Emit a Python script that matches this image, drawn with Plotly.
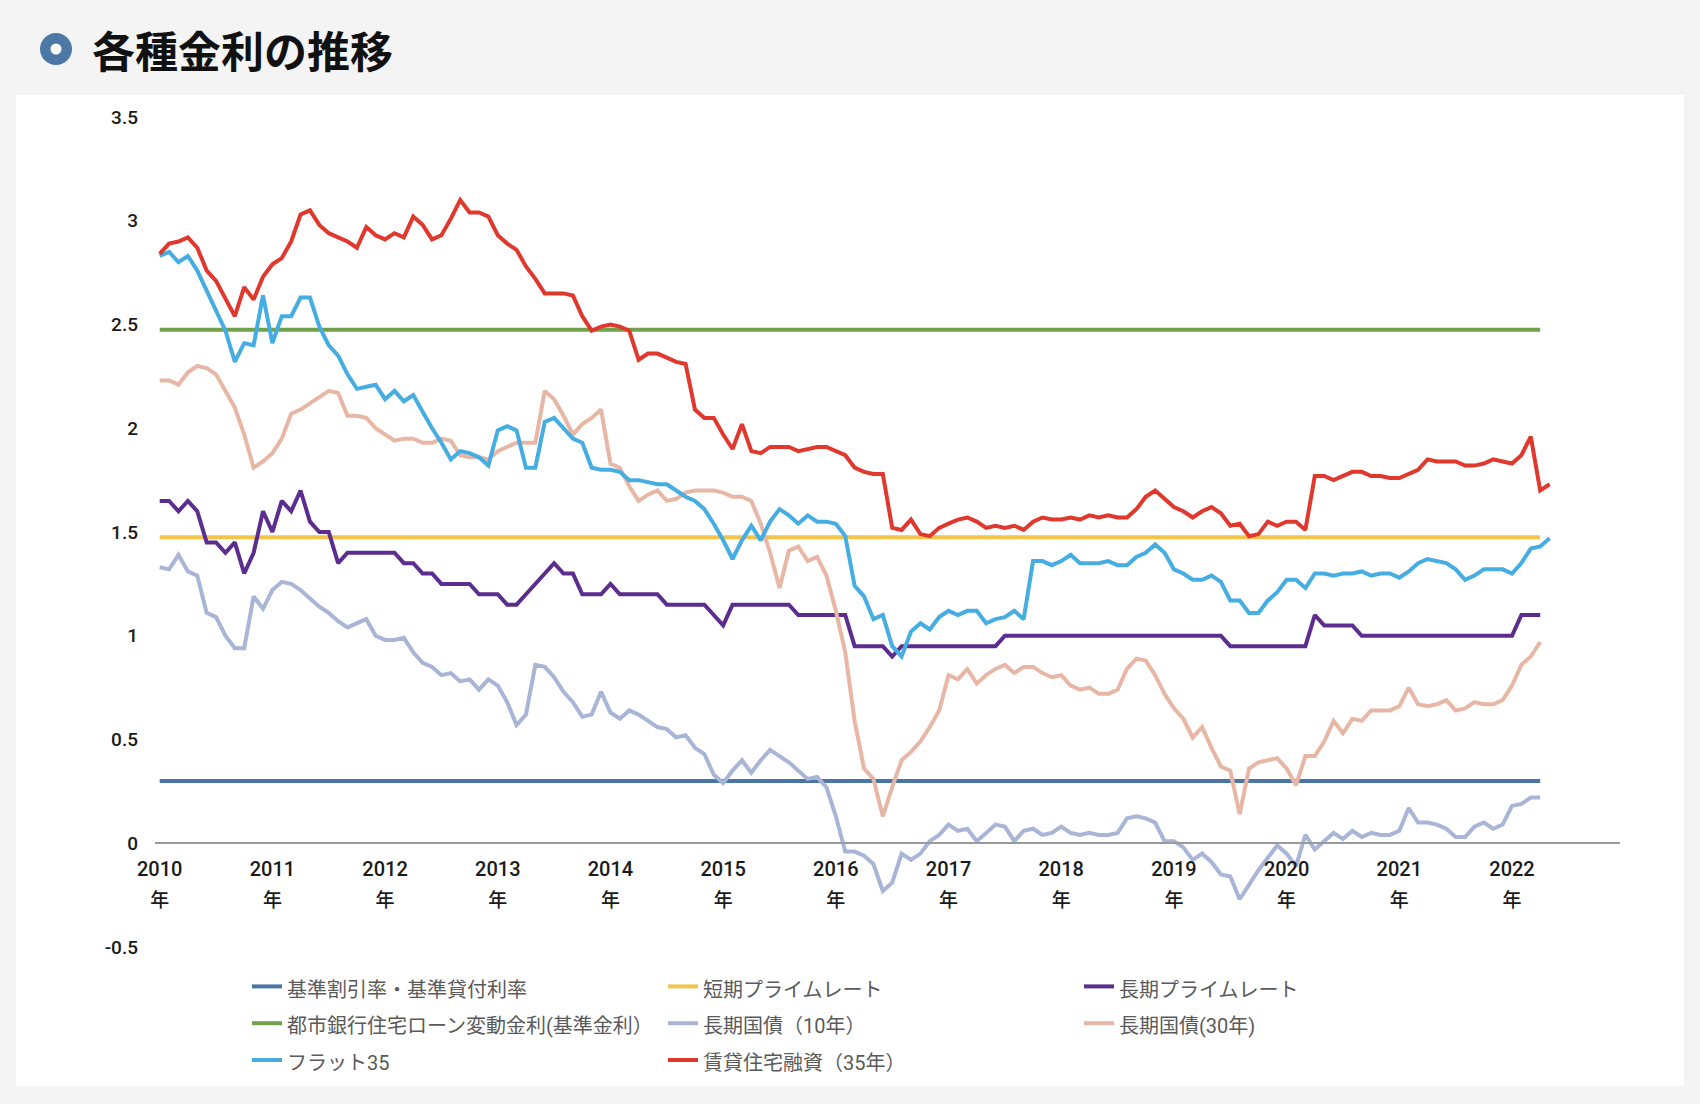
import plotly.graph_objects as go

# ---------------- data (monthly, Jan 2010 -> ) ----------------
years = [str(y) for y in range(2010, 2023)]
months = [f"{2010 + k // 12}/{k % 12 + 1:02d}" for k in range(149)]

# constant policy/bank rates (period start -> end, Jan 2010 - Apr 2022)
base_rate = [0.30, 0.30]          # 基準割引率・基準貸付利率
short_prime = [1.475, 1.475]      # 短期プライムレート
bank_variable = [2.475, 2.475]    # 都市銀行住宅ローン変動金利(基準金利)
const_x = [months[0], months[147]]

long_prime = [
    1.65, 1.65, 1.60, 1.65, 1.60, 1.45, 1.45, 1.40, 1.45, 1.30, 1.40, 1.60,
    1.50, 1.65, 1.60, 1.70, 1.55, 1.50, 1.50, 1.35, 1.40, 1.40, 1.40, 1.40,
    1.40, 1.40, 1.35, 1.35, 1.30, 1.30, 1.25, 1.25, 1.25, 1.25, 1.20, 1.20,
    1.20, 1.15, 1.15, 1.20, 1.25, 1.30, 1.35, 1.30, 1.30, 1.20, 1.20, 1.20,
    1.25, 1.20, 1.20, 1.20, 1.20, 1.20, 1.15, 1.15, 1.15, 1.15, 1.15, 1.10,
    1.05, 1.15, 1.15, 1.15, 1.15, 1.15, 1.15, 1.15, 1.10, 1.10, 1.10, 1.10,
    1.10, 1.10, 0.95, 0.95, 0.95, 0.95, 0.90, 0.95, 0.95, 0.95, 0.95, 0.95,
    0.95, 0.95, 0.95, 0.95, 0.95, 0.95, 1.00, 1.00, 1.00, 1.00, 1.00, 1.00,
    1.00, 1.00, 1.00, 1.00, 1.00, 1.00, 1.00, 1.00, 1.00, 1.00, 1.00, 1.00,
    1.00, 1.00, 1.00, 1.00, 1.00, 1.00, 0.95, 0.95, 0.95, 0.95, 0.95, 0.95,
    0.95, 0.95, 0.95, 1.10, 1.05, 1.05, 1.05, 1.05, 1.00, 1.00, 1.00, 1.00,
    1.00, 1.00, 1.00, 1.00, 1.00, 1.00, 1.00, 1.00, 1.00, 1.00, 1.00, 1.00,
    1.00, 1.10, 1.10, 1.10,
]

jgb10 = [
    1.33, 1.32, 1.39, 1.31, 1.29, 1.11, 1.09, 1.00, 0.94, 0.94, 1.19, 1.13,
    1.22, 1.26, 1.25, 1.22, 1.18, 1.14, 1.11, 1.07, 1.04, 1.06, 1.08, 1.00,
    0.98, 0.98, 0.99, 0.92, 0.87, 0.85, 0.81, 0.82, 0.78, 0.79, 0.74, 0.79,
    0.76, 0.68, 0.57, 0.62, 0.86, 0.85, 0.80, 0.73, 0.68, 0.61, 0.62, 0.73,
    0.63, 0.60, 0.64, 0.62, 0.59, 0.56, 0.55, 0.51, 0.52, 0.46, 0.43, 0.33,
    0.29, 0.35, 0.40, 0.34, 0.40, 0.45, 0.42, 0.39, 0.35, 0.31, 0.32, 0.27,
    0.13, -0.04, -0.04, -0.06, -0.10, -0.23, -0.19, -0.05, -0.08, -0.05, 0.01, 0.04,
    0.09, 0.06, 0.07, 0.01, 0.05, 0.09, 0.08, 0.01, 0.06, 0.07, 0.04, 0.05,
    0.08, 0.05, 0.04, 0.05, 0.04, 0.04, 0.05, 0.12, 0.13, 0.12, 0.10, 0.01,
    0.01, -0.02, -0.08, -0.05, -0.09, -0.15, -0.16, -0.27, -0.20, -0.13, -0.07, -0.01,
    -0.05, -0.11, 0.04, -0.03, 0.01, 0.05, 0.02, 0.06, 0.03, 0.05, 0.04, 0.04,
    0.06, 0.17, 0.10, 0.10, 0.09, 0.07, 0.03, 0.03, 0.08, 0.10, 0.07, 0.09,
    0.18, 0.19, 0.22, 0.22,
]

jgb30 = [
    2.23, 2.23, 2.21, 2.27, 2.30, 2.29, 2.26, 2.18, 2.10, 1.97, 1.81, 1.84,
    1.88, 1.95, 2.07, 2.09, 2.12, 2.15, 2.18, 2.17, 2.06, 2.06, 2.05, 2.00,
    1.97, 1.94, 1.95, 1.95, 1.93, 1.93, 1.95, 1.94, 1.87, 1.86, 1.86, 1.85,
    1.89, 1.91, 1.93, 1.93, 1.93, 2.18, 2.14, 2.06, 1.97, 2.02, 2.05, 2.09,
    1.83, 1.81, 1.72, 1.65, 1.68, 1.70, 1.65, 1.66, 1.69, 1.70, 1.70, 1.70,
    1.69, 1.67, 1.67, 1.65, 1.54, 1.40, 1.23, 1.41, 1.43, 1.36, 1.38, 1.29,
    1.12, 0.92, 0.59, 0.36, 0.31, 0.13, 0.27, 0.40, 0.44, 0.49, 0.56, 0.64,
    0.81, 0.79, 0.84, 0.77, 0.81, 0.84, 0.86, 0.82, 0.85, 0.85, 0.82, 0.80,
    0.81, 0.76, 0.74, 0.75, 0.72, 0.72, 0.74, 0.84, 0.89, 0.88, 0.81, 0.72,
    0.65, 0.60, 0.51, 0.56, 0.46, 0.37, 0.35, 0.14, 0.36, 0.39, 0.40, 0.41,
    0.36, 0.28, 0.42, 0.42, 0.49, 0.59, 0.53, 0.60, 0.59, 0.64, 0.64, 0.64,
    0.66, 0.75, 0.67, 0.66, 0.67, 0.69, 0.64, 0.65, 0.68, 0.67, 0.67, 0.69,
    0.76, 0.86, 0.90, 0.97,
]

flat35 = [
    2.83, 2.85, 2.80, 2.83, 2.76, 2.66, 2.57, 2.47, 2.32, 2.41, 2.40, 2.64,
    2.41, 2.54, 2.54, 2.63, 2.63, 2.49, 2.40, 2.35, 2.26, 2.19, 2.20, 2.21,
    2.14, 2.18, 2.13, 2.16, 2.08, 2.00, 1.93, 1.85, 1.89, 1.88, 1.86, 1.82,
    1.99, 2.01, 1.99, 1.81, 1.81, 2.03, 2.05, 2.00, 1.95, 1.93, 1.81, 1.80,
    1.80, 1.79, 1.75, 1.75, 1.74, 1.73, 1.73, 1.70, 1.67, 1.65, 1.61, 1.54,
    1.46, 1.37, 1.46, 1.53, 1.46, 1.55, 1.61, 1.58, 1.54, 1.58, 1.55, 1.55,
    1.54, 1.48, 1.24, 1.19, 1.08, 1.10, 0.95, 0.90, 1.02, 1.06, 1.03, 1.09,
    1.12, 1.10, 1.12, 1.12, 1.06, 1.08, 1.09, 1.12, 1.08, 1.36, 1.36, 1.34,
    1.36, 1.39, 1.35, 1.35, 1.35, 1.36, 1.34, 1.34, 1.38, 1.40, 1.44, 1.40,
    1.32, 1.30, 1.27, 1.27, 1.29, 1.26, 1.17, 1.17, 1.11, 1.11, 1.17, 1.21,
    1.27, 1.27, 1.23, 1.30, 1.30, 1.29, 1.30, 1.30, 1.31, 1.29, 1.30, 1.30,
    1.28, 1.31, 1.35, 1.37, 1.36, 1.35, 1.32, 1.27, 1.29, 1.32, 1.32, 1.32,
    1.30, 1.35, 1.42, 1.43, 1.47,
]

rental35 = [
    2.84, 2.89, 2.90, 2.92, 2.87, 2.76, 2.71, 2.62, 2.54, 2.68, 2.62, 2.73,
    2.79, 2.82, 2.90, 3.03, 3.05, 2.98, 2.94, 2.92, 2.90, 2.87, 2.97, 2.93,
    2.91, 2.94, 2.92, 3.02, 2.98, 2.91, 2.93, 3.01, 3.10, 3.04, 3.04, 3.02,
    2.93, 2.89, 2.86, 2.78, 2.72, 2.65, 2.65, 2.65, 2.64, 2.54, 2.47, 2.49,
    2.50, 2.49, 2.47, 2.33, 2.36, 2.36, 2.34, 2.32, 2.31, 2.09, 2.05, 2.05,
    1.97, 1.90, 2.02, 1.89, 1.88, 1.91, 1.91, 1.91, 1.89, 1.90, 1.91, 1.91,
    1.89, 1.87, 1.81, 1.79, 1.78, 1.78, 1.52, 1.51, 1.56, 1.49, 1.48, 1.52,
    1.54, 1.56, 1.57, 1.55, 1.52, 1.53, 1.52, 1.53, 1.51, 1.55, 1.57, 1.56,
    1.56, 1.57, 1.56, 1.58, 1.57, 1.58, 1.57, 1.57, 1.61, 1.67, 1.70, 1.66,
    1.62, 1.60, 1.57, 1.60, 1.62, 1.59, 1.53, 1.54, 1.48, 1.49, 1.55, 1.53,
    1.55, 1.55, 1.51, 1.77, 1.77, 1.75, 1.77, 1.79, 1.79, 1.77, 1.77, 1.76,
    1.76, 1.78, 1.80, 1.85, 1.84, 1.84, 1.84, 1.82, 1.82, 1.83, 1.85, 1.84,
    1.83, 1.87, 1.96, 1.70, 1.73,
]

y_ticks = [-0.5, 0, 0.5, 1, 1.5, 2, 2.5, 3, 3.5]
y_tick_text = ["-0.5", "0", "0.5", "1", "1.5", "2", "2.5", "3", "3.5"]

series = [
    ("基準割引率・基準貸付利率", const_x, base_rate, "#4a76a6"),
    ("短期プライムレート", const_x, short_prime, "#f3c34a"),
    ("長期プライムレート", months[:len(long_prime)], long_prime, "#5c2d8f"),
    ("都市銀行住宅ローン変動金利(基準金利）", const_x, bank_variable, "#70a24c"),
    ("長期国債（10年）", months[:len(jgb10)], jgb10, "#a8b5d7"),
    ("長期国債(30年)", months[:len(jgb30)], jgb30, "#e7b6a4"),
    ("フラット35", months[:len(flat35)], flat35, "#45ade2"),
    ("賃貸住宅融資（35年）", months[:len(rental35)], rental35, "#e0382d"),
]

FONT = "Roboto, Noto Sans CJK JP, sans-serif"

fig = go.Figure()
for name, xs, ys, col in series:
    fig.add_trace(go.Scatter(
        x=xs, y=ys, mode="lines",
        name=f'<span style="font-size:20px">{name}</span>',
        line=dict(color=col, width=4),
        hoverinfo="skip",
    ))

# layout geometry (px)
W, H = 1700, 1104
L, R, T, B = 155, 80, 117, 157
PW, PH = W - L - R, H - T - B


def px2x(px):
    return (px - L) / PW


def px2y(py):
    return (H - B - py) / PH


tick_vals = [months[12 * k] for k in range(len(years))]
tick_text = [f'<span style="font-size:20px">{y}</span><br><span style="font-size:19px">年</span>' for y in years]

fig.update_layout(
    width=W, height=H,
    margin=dict(l=L, r=R, t=T, b=B, pad=0),
    paper_bgcolor="#f4f4f4",
    plot_bgcolor="#ffffff",
    font=dict(family=FONT, color="#222222", size=18),
    showlegend=True,
    legend=dict(
        orientation="h",
        x=px2x(247), xanchor="left",
        y=px2y(963), yanchor="top",
        entrywidth=371, entrywidthmode="pixels",
        font=dict(size=26, color="#5a5a5a", family=FONT),
        bgcolor="rgba(0,0,0,0)",
        traceorder="normal",
    ),
    xaxis=dict(
        type="category",
        categoryorder="array", categoryarray=months,
        range=[-0.5, 155.5],
        anchor="free", position=px2y(843),
        showline=True, linecolor="#9a9a9a", linewidth=1.6,
        showgrid=False, zeroline=False, ticks="",
        tickmode="array", tickvals=tick_vals, ticktext=tick_text,
        tickfont=dict(size=23.5, color="#1a1a1a", family=FONT, weight=500),
        tickangle=0,
        ticklabelstandoff=4,
    ),
    yaxis=dict(
        range=[-0.5, 3.5],
        showgrid=False, zeroline=False, showline=False, ticks="",
        tickmode="array", tickvals=y_ticks, ticktext=y_tick_text,
        tickfont=dict(size=19, color="#1a1a1a", family=FONT, weight=500),
        ticklabelstandoff=16,
    ),
    shapes=[
        dict(type="rect", xref="paper", yref="paper", layer="below",
             x0=px2x(16), x1=px2x(1684), y0=px2y(1086), y1=px2y(95),
             fillcolor="#ffffff", line=dict(width=0)),
        dict(type="circle", xref="paper", yref="paper",
             xsizemode="pixel", ysizemode="pixel",
             xanchor=px2x(56), yanchor=px2y(49),
             x0=-16, x1=16, y0=-16, y1=16,
             fillcolor="#4b78a5", line=dict(width=0)),
        dict(type="circle", xref="paper", yref="paper",
             xsizemode="pixel", ysizemode="pixel",
             xanchor=px2x(56), yanchor=px2y(49),
             x0=-5.5, x1=5.5, y0=-5.5, y1=5.5,
             fillcolor="#ffffff", line=dict(width=0)),
    ],
    annotations=[
        dict(text="<b>各種金利の推移</b>", xref="paper", yref="paper",
             x=px2x(90), y=px2y(49), xanchor="left", yanchor="middle",
             showarrow=False,
             font=dict(size=43, color="#111111", family="Noto Sans CJK JP, sans-serif")),
    ],
)

fig.write_html(
    "out.html",
    include_plotlyjs=True,
    config={"displayModeBar": False},
    post_script="document.body.style.margin='0';document.body.style.overflow='hidden';",
)
